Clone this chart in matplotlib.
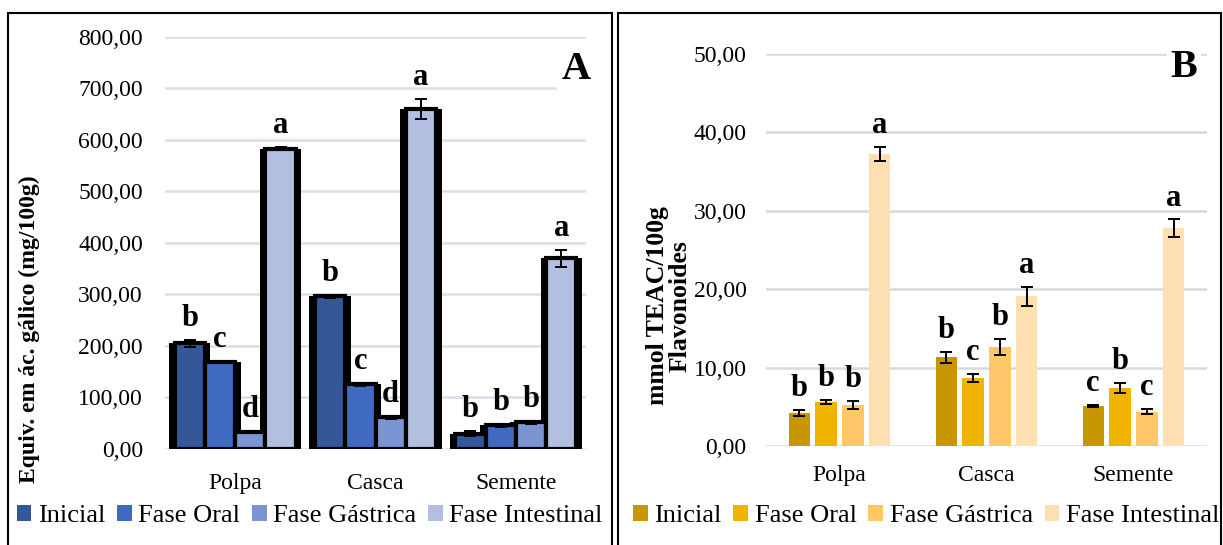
import matplotlib.pyplot as plt
import numpy as np
from matplotlib.patches import Patch, Rectangle
from matplotlib.ticker import FuncFormatter

plt.rcParams['font.family'] = ['Liberation Serif', 'DejaVu Serif']

partes = ['Polpa', 'Casca', 'Semente']
fases = ['Inicial', 'Fase Oral', 'Fase Gástrica', 'Fase Intestinal']

# painel A - compostos fenolicos (mg eq. ac. galico / 100g), uma lista por fase
fenol = [[205, 296, 30], [169, 126, 46], [33, 62, 52], [583, 660, 370]]
fenol_err = [[7, 3, 5], [2, 3, 3], [2, 3, 3], [3, 20, 17]]
fenol_letras = [['b', 'b', 'b'], ['c', 'c', 'b'], ['d', 'd', 'b'], ['a', 'a', 'a']]

# painel B - flavonoides (mmol TEAC / 100g)
flav = [[4.2, 11.3, 5.1], [5.6, 8.7, 7.4], [5.2, 12.6, 4.4], [37.3, 19.1, 27.8]]
flav_err = [[0.4, 0.7, 0.1], [0.3, 0.5, 0.6], [0.5, 1.0, 0.3], [0.9, 1.2, 1.1]]
flav_letras = [['b', 'b', 'c'], ['b', 'c', 'b'], ['b', 'b', 'c'], ['a', 'a', 'a']]

cores_a = ['#34579a', '#3e6bc0', '#7b95d3', '#b3bfe0']
cores_b = ['#c89600', '#f0b400', '#fec868', '#fddfb2']

virgula = FuncFormatter(lambda v, p: f'{v:.2f}'.replace('.', ','))

fig = plt.figure(figsize=(12.23, 5.45), dpi=100)
W, H = 1223, 545

# molduras dos dois paineis
fig.add_artist(Rectangle((8 / W, -0.05), 604 / W, 1.05 - 13 / H, transform=fig.transFigure,
                         fill=False, ec='black', lw=1.5))
fig.add_artist(Rectangle((618 / W, -0.05), 603 / W, 1.05 - 13 / H, transform=fig.transFigure,
                         fill=False, ec='black', lw=1.5))


def estilo(ax, ylim, step, gridcor):
    ax.set_xlim(-0.5, 2.5)
    ax.set_ylim(*ylim)
    ax.set_yticks(np.arange(ylim[0], ylim[1] + step / 2, step))
    ax.yaxis.set_major_formatter(virgula)
    ax.yaxis.grid(True, color=gridcor, lw=1.8)
    ax.set_axisbelow(True)
    for s in ax.spines.values():
        s.set_visible(False)
    ax.set_xticks(range(len(partes)))
    ax.set_xticklabels(partes, fontsize=17)
    ax.tick_params(axis='x', length=0, pad=14)
    ax.tick_params(axis='y', length=0, labelsize=17)


x = np.arange(len(partes))

# ---- painel A
axA = fig.add_axes([165 / W, 96 / H, 421 / W, 412.3 / H])
estilo(axA, (0, 800), 100, '#dadee8')
axA.tick_params(axis='y', pad=16)
axA.tick_params(axis='x', pad=17)
wa = 0.216
for i in range(4):
    pos = x + (i - 1.5) * wa
    axA.bar(pos, fenol[i], width=wa + 0.08, color='black', zorder=2)
for i in range(4):
    pos = x + (i - 1.5) * wa
    axA.bar(pos, fenol[i], width=wa, color=cores_a[i], edgecolor='black', lw=3, zorder=3)
    axA.errorbar(pos, fenol[i], yerr=fenol_err[i], fmt='none', ecolor='black',
                 elinewidth=1.4, capsize=4, capthick=1.4, zorder=4)
    for xx, v, e, l in zip(pos, fenol[i], fenol_err[i], fenol_letras[i]):
        axA.annotate(l, (xx, v + e), xytext=(0, 10), textcoords='offset points',
                     ha='center', va='baseline', fontsize=22, fontweight='bold', zorder=5)
axA.set_ylabel('Equiv. em ác. gálico (mg/100g)', fontsize=17, fontweight='bold')
axA.yaxis.set_label_coords(-0.297, 0.29)
axA.text(0.976, 0.92, 'A', transform=axA.transAxes, ha='center', va='center',
         fontsize=29, fontweight='bold', bbox=dict(facecolor='white', edgecolor='none', pad=3))
axA.legend([Patch(facecolor=c, edgecolor='none') for c in cores_a], fases, ncol=4,
           loc='center', bbox_to_anchor=(0.344, -0.1625), frameon=False, fontsize=19,
           handlelength=0.55, handleheight=0.55, handletextpad=0.25, columnspacing=0.45)

# ---- painel B
axB = fig.add_axes([766 / W, 99 / H, 441 / W, 392 / H])
estilo(axB, (0, 50), 10, '#d9d9d9')
axB.tick_params(axis='y', pad=14)
wb = 0.183
for i in range(4):
    pos = x + (i - 1.5) * wb
    axB.bar(pos, flav[i], width=0.144, color=cores_b[i], zorder=3)
    axB.errorbar(pos, flav[i], yerr=flav_err[i], fmt='none', ecolor='black',
                 elinewidth=1.4, capsize=4, capthick=1.4, zorder=4)
    for xx, v, e, l in zip(pos, flav[i], flav_err[i], flav_letras[i]):
        axB.annotate(l, (xx, v + e), xytext=(0, 10), textcoords='offset points',
                     ha='center', va='baseline', fontsize=22, fontweight='bold', zorder=5)
axB.set_ylabel('mmol TEAC/100g\nFlavonoides', fontsize=18.5, fontweight='bold', linespacing=1.0)
axB.yaxis.set_label_coords(-0.168, 0.357)
axB.text(0.948, 0.965, 'B', transform=axB.transAxes, ha='center', va='center',
         fontsize=29, fontweight='bold', bbox=dict(facecolor='white', edgecolor='none', pad=3))
axB.legend([Patch(facecolor=c, edgecolor='none') for c in cores_b], fases, ncol=4,
           loc='center', bbox_to_anchor=(0.363, -0.1786), frameon=False, fontsize=19,
           handlelength=0.55, handleheight=0.55, handletextpad=0.25, columnspacing=0.45)

fig.savefig('out.png', dpi=100)
